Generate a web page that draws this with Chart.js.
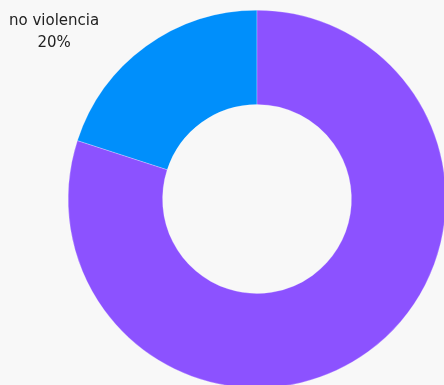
<!DOCTYPE html>
<html>
<head>
<meta charset="utf-8">
<script src="https://cdn.jsdelivr.net/npm/chart.js@4/dist/chart.umd.min.js"></script>
<style>
    html, body { margin: 0; padding: 0; background: #f8f8f8; overflow: hidden; width: 444px; height: 385px; }
    #wrap { position: absolute; left: -43px; top: -101px; width: 600px; height: 600px; }
</style>
</head>
<body>
<div id="wrap"><canvas id="chart" width="600" height="600"></canvas></div>
<script>
const categories = ['no violencia', 'violencia'];
const values = [20, 80];
const colors = ['#008ffb', '#8c52ff'];

// window edges inside the (larger) canvas
const view = { left: 43, top: 101, right: 487, bottom: 486 };

const outsideLabels = {
    id: 'outsideLabels',
    afterDatasetsDraw(chart) {
        let ctx = chart.ctx;
        let meta = chart.getDatasetMeta(0);
        let total = values.reduce((a, b) => a + b, 0);
        ctx.save();
        ctx.font = '15px "DejaVu Sans"';
        ctx.fillStyle = '#222';
        ctx.textAlign = 'center';
        ctx.textBaseline = 'middle';
        meta.data.forEach((arc, i) => {
            let { x, y, startAngle, endAngle, outerRadius } = arc.getProps(['x', 'y', 'startAngle', 'endAngle', 'outerRadius'], true);
            let mid = (startAngle + endAngle) / 2;
            let side = Math.cos(mid) < 0 ? -1 : 1;
            let lx = x + side * (outerRadius + 14);
            let ly = y + Math.sin(mid) * (outerRadius + 20);
            let pct = Math.round(values[i] / total * 100) + '%';
            let w = Math.max(ctx.measureText(categories[i]).width, ctx.measureText(pct).width);
            if (lx - w / 2 < view.left || lx + w / 2 > view.right) return;
            ctx.fillText(categories[i], lx, ly - 9);
            ctx.fillText(pct, lx, ly + 13);
        });
        ctx.restore();
    }
};

new Chart(document.getElementById('chart').getContext('2d'), {
    type: 'doughnut',
    data: {
        labels: categories,
        datasets: [{
            data: values,
            backgroundColor: colors,
            borderColor: '#ffffff',
            borderWidth: 0.25
        }]
    },
    options: {
        responsive: false,
        animation: false,
        cutout: '50%',
        rotation: -72,
        layout: {
            padding: 111
        },
        plugins: {
            legend: { display: false },
            tooltip: { enabled: false }
        }
    },
    plugins: [outsideLabels]
});
</script>
</body>
</html>
